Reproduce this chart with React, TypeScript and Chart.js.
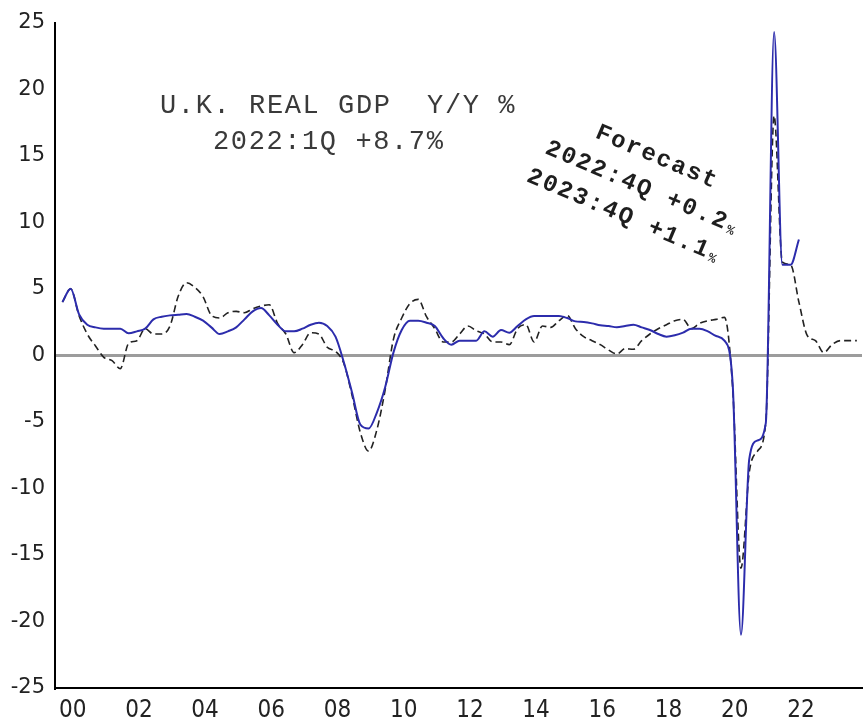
import { useEffect, useRef } from "react";
import { Chart, registerables } from "chart.js";

Chart.register(...registerables);

// First observation: 1999 Q4, quarterly steps
const START_YEAR = 1999.75;
const QUARTER = 0.25;

// U.K. real GDP, Y/Y % (solid blue), 1999Q4 .. 2022Q1
const actualYoY = [
  4.0, 5.0, 3.1, 2.3, 2.1, 2.0, 2.0, 2.0, 1.65, 1.8,
  2.0, 2.7, 2.9, 3.0, 3.05, 3.1, 2.9, 2.6, 2.1, 1.6,
  1.8, 2.1, 2.7, 3.3, 3.55, 3.0, 2.3, 1.8, 1.8, 2.0,
  2.3, 2.45, 2.2, 1.4, -0.5, -2.8, -5.2, -5.5, -4.3, -2.4,
  0.2, 1.9, 2.6, 2.6, 2.45, 2.2, 1.3, 0.8, 1.1, 1.1,
  1.1, 1.8, 1.4, 1.9, 1.7, 2.2, 2.7, 2.95, 2.95, 2.95,
  2.95, 2.8, 2.55, 2.5, 2.4, 2.25, 2.2, 2.1, 2.2, 2.3,
  2.1, 1.9, 1.6, 1.4, 1.5, 1.7, 2.0, 2.0, 1.8, 1.45,
  1.1, -2.2, -21.0, -7.8, -6.4, -5.1, 24.3, 6.8, 6.8, 8.7,
];

// Dashed series incl. forecast, 1999Q4 .. 2023Q4
const dashedSeries = [
  4.0, 5.0, 3.0, 1.6, 0.7, -0.15, -0.4, -1.0, 0.9, 1.1,
  2.0, 1.6, 1.6, 2.2, 4.45, 5.45, 5.1, 4.4, 3.0, 2.8,
  3.2, 3.3, 3.2, 3.5, 3.7, 3.8, 2.4, 1.6, 0.2, 0.8,
  1.7, 1.6, 0.6, 0.3, -0.6, -3.0, -5.8, -7.2, -5.6, -2.6,
  1.2, 2.8, 3.9, 4.2, 2.9, 2.0, 1.0, 1.0, 1.6, 2.2,
  1.85, 1.6, 1.0, 1.0, 0.8, 2.0, 2.3, 1.0, 2.2, 2.1,
  2.6, 3.0, 2.0, 1.4, 1.1, 0.8, 0.4, 0.1, 0.5, 0.45,
  1.1, 1.6, 2.0, 2.3, 2.6, 2.7, 2.0, 2.4, 2.6, 2.7,
  2.85, -2.5, -16.0, -8.8, -7.2, -5.0, 18.0, 7.0, 6.8, 4.0,
  1.5, 1.1, 0.2, 0.8, 1.1, 1.1, 1.1,
];

const yearTicks = [2000, 2002, 2004, 2006, 2008, 2010, 2012, 2014, 2016, 2018, 2020, 2022];
const Y_MIN = -25;
const Y_MAX = 25;
const Y_STEP = 5;

const titleLines = ["U.K. REAL GDP  Y/Y %", "2022:1Q +8.7%"];
const forecastLines = ["Forecast", "2022:4Q +0.2", "2023:4Q +1.1"];

const toPoints = (arr: number[]) =>
  arr.map((v, i) => ({ x: START_YEAR + i * QUARTER, y: v }));

const annotationPlugin = {
  id: "textNotes",
  afterDraw(chart: any) {
    const { ctx } = chart;
    const xs = chart.scales.x;
    const ys = chart.scales.y;
    ctx.save();
    // Title block
    ctx.fillStyle = "#3a3a3a";
    ctx.font = "27px 'Liberation Mono', 'DejaVu Sans Mono', monospace";
    (ctx as any).letterSpacing = "1.6px";
    ctx.textAlign = "left";
    ctx.textBaseline = "middle";
    ctx.fillText(titleLines[0], xs.getPixelForValue(2002.7), ys.getPixelForValue(18.75));
    ctx.fillText(titleLines[1], xs.getPixelForValue(2004.3), ys.getPixelForValue(16.05));

    // Rotated forecast block
    const ox = xs.getPixelForValue(2014.3);
    const oy = ys.getPixelForValue(15.2);
    ctx.translate(ox, oy);
    ctx.rotate((23 * Math.PI) / 180);
    ctx.fillStyle = "#1e1e1e";
    ctx.textBaseline = "alphabetic";
    const big = "bold 24px 'Liberation Mono', 'DejaVu Sans Mono', monospace";
    const small = "bold 13px 'Liberation Mono', 'DejaVu Sans Mono', monospace";
    const offsets = [
      [40, -34],
      [0, 0],
      [-6, 33],
    ];
    forecastLines.forEach((line, k) => {
      const [lx, ly] = offsets[k];
      ctx.font = big;
      (ctx as any).letterSpacing = "2px";
      ctx.fillText(line, lx, ly);
      if (k > 0) {
        const w = ctx.measureText(line).width;
        ctx.font = small;
        (ctx as any).letterSpacing = "0px";
        ctx.fillText("%", lx + w + 1, ly + 2);
      }
    });
    ctx.restore();
  },
};

export default function App() {
  const canvasRef = useRef<HTMLCanvasElement | null>(null);

  useEffect(() => {
    const canvas = canvasRef.current;
    if (!canvas) return;
    const chart = new Chart(canvas, {
      type: "line",
      data: {
        datasets: [
          {
            label: "Real GDP Y/Y %",
            data: toPoints(actualYoY),
            borderColor: "#2c2cac",
            borderWidth: 2,
            pointRadius: 0,
            cubicInterpolationMode: "monotone",
            fill: false,
          },
          {
            label: "Forecast path",
            data: toPoints(dashedSeries),
            borderColor: "#222",
            borderWidth: 1.6,
            borderDash: [7, 4],
            pointRadius: 0,
            cubicInterpolationMode: "monotone",
            fill: false,
          },
        ],
      },
      options: {
        responsive: false,
        animation: false,
        events: [],
        layout: { padding: { top: 18, right: 4, left: 0, bottom: 0 } },
        plugins: {
          legend: { display: false },
          tooltip: { enabled: false },
          title: { display: false },
        },
        scales: {
          x: {
            type: "linear",
            min: 1999.526,
            max: 2023.906,
            afterBuildTicks: (scale: any) => {
              scale.ticks = yearTicks.map((v) => ({ value: v }));
            },
            afterFit: (scale: any) => {
              scale.height = 40;
            },
            grid: { display: false, drawTicks: false },
            border: { display: true, color: "#000", width: 2 },
            ticks: {
              autoSkip: false,
              maxRotation: 0,
              padding: 8,
              labelOffset: 2,
              color: "#222",
              font: { family: "'Liberation Sans Narrow', 'DejaVu Sans Condensed', sans-serif", size: 24 },
              callback: (v: any) => String(Number(v) % 100).padStart(2, "0"),
            },
          },
          y: {
            min: Y_MIN,
            max: Y_MAX,
            afterFit: (scale: any) => {
              scale.width = 55;
            },
            grid: {
              drawTicks: false,
              color: (c: any) => (c.tick && c.tick.value === 0 ? "#9c9c9c" : "rgba(0,0,0,0)"),
              lineWidth: 3,
            },
            border: { display: true, color: "#000", width: 2 },
            ticks: {
              stepSize: Y_STEP,
              padding: 10,
              color: "#222",
              font: { family: "'DejaVu Sans', sans-serif", size: 21 },
            },
          },
        },
      },
      plugins: [annotationPlugin],
    });
    return () => chart.destroy();
  }, []);

  return (
    <div style={{ position: "absolute", left: 0, top: 0, width: 866, height: 728, background: "#fff" }}>
      <canvas ref={canvasRef} width={866} height={728} style={{ display: "block" }} />
    </div>
  );
}
